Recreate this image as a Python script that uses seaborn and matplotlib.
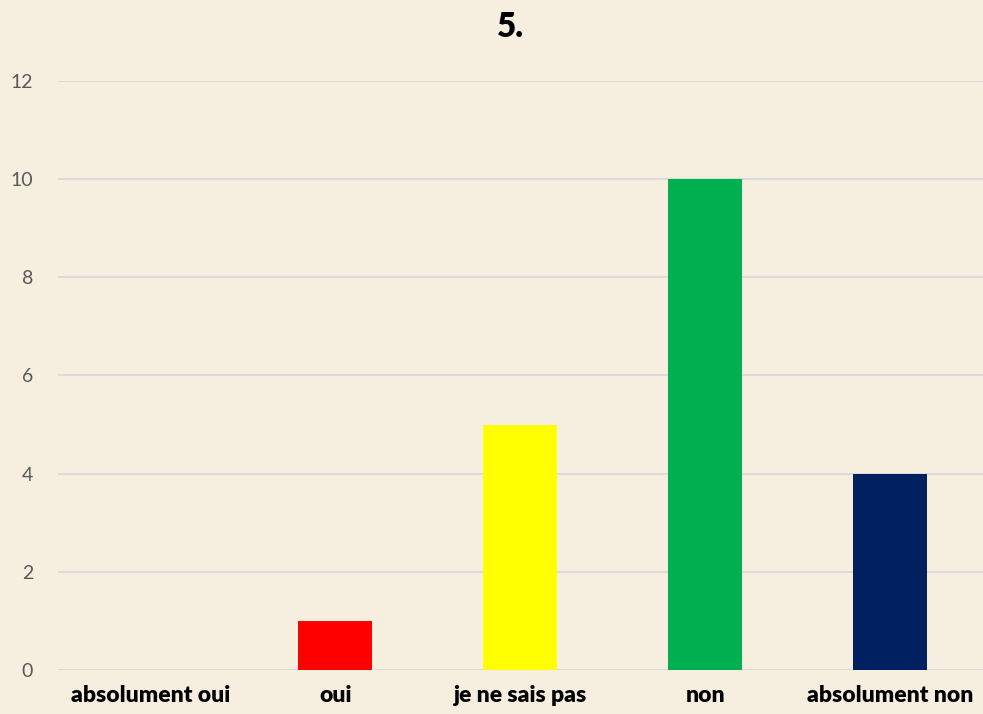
import pandas as pd
import seaborn as sns
import matplotlib.pyplot as plt

# Data
categories = ['absolument oui', 'oui', 'je ne sais pas', 'non', 'absolument non']
counts = [0, 1, 5, 10, 4]
bar_colors = ['#FFFFFF', '#FF0000', '#FFFF00', '#00B050', '#002060']
y_ticks = [0, 2, 4, 6, 8, 10, 12]

BG = '#F6EFDF'

sns.set_theme(style='white')
plt.rcParams['font.family'] = ['Lato', 'DejaVu Sans']

df = pd.DataFrame({'cat': categories, 'n': counts})

fig = plt.figure(figsize=(9.83, 7.14), dpi=100, facecolor=BG)
ax = fig.add_axes([0.059, 0.0616, 0.941, 0.825])
ax.set_facecolor(BG)

sns.barplot(data=df, x='cat', y='n', hue='cat', palette=bar_colors,
            width=0.4, saturation=1, linewidth=0, legend=False, ax=ax, zorder=3)

ax.set_ylim(0, 12)
ax.set_xlim(-0.5, 4.5)
ax.set_yticks(y_ticks)
ax.yaxis.grid(True, color='#D9D9D9', linewidth=1.3, zorder=0)
ax.set_axisbelow(True)
for s in ax.spines.values():
    s.set_visible(False)

ax.tick_params(axis='y', length=0, labelsize=14, labelcolor='#595959', pad=18)
ax.tick_params(axis='x', length=0, pad=11)
for lab in ax.get_xticklabels():
    lab.set_fontsize(16.5)
    lab.set_fontweight('heavy')
    lab.set_color('black')

ax.set_xlabel('')
ax.set_ylabel('')

fig.text(0.519, 0.962, '5.', ha='center', va='center', fontsize=24,
         fontweight='heavy', color='black')

fig.savefig('out.png', dpi=100, facecolor=BG)
